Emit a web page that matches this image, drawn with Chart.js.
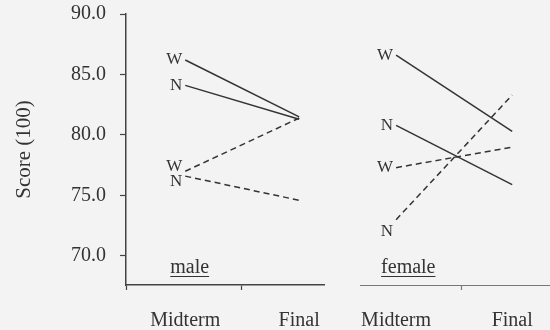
<!DOCTYPE html>
<html>
<head>
<meta charset="utf-8">
<title>Score (100)</title>
<script src="https://cdn.jsdelivr.net/npm/chart.js@4.4.1/dist/chart.umd.min.js"></script>
<style>
    html, body { margin: 0; padding: 0; background: #f3f3f3; }
    #wrap { position: relative; width: 550px; height: 330px; overflow: hidden; }
    #maleChart { position: absolute; left: 0; top: -12px; }
    #femaleChart { position: absolute; left: 340px; top: -12px; }
</style>
</head>
<body>
<div id="wrap">
    <canvas id="maleChart" width="340" height="364"></canvas>
    <canvas id="femaleChart" width="210" height="364"></canvas>
</div>
<script>
var periods = ['Midterm', 'Final'];
var yTickValues = [70, 75, 80, 85, 90];

// solid lines
var maleW1 = [86.2, 81.5];
var maleN1 = [84.1, 81.3];
var femaleW1 = [86.6, 80.3];
var femaleN1 = [80.8, 75.9];

// dashed lines
var maleW2 = [77.0, 81.4];
var maleN2 = [76.6, 74.6];
var femaleW2 = [77.3, 79.0];
var femaleN2 = [73.0, 83.3];

var ScoreCharts = (function () {
    'use strict';

    var serif = '"Liberation Serif", "Times New Roman", serif';
    var ink = '#333';
    var axisInk = '#444';
    var clear = 'rgba(0,0,0,0)';

    var toPoints = function (values) {
        return values.map(function (v, i) {
            return { x: i, y: v };
        });
    };

    var makeSet = function (label, values, dashed) {
        return {
            label: label,
            data: toPoints(values),
            borderColor: ink,
            borderWidth: 1.5,
            borderDash: dashed ? [6, 4] : [],
            pointRadius: 0,
            tension: 0,
            fill: false
        };
    };

    // W / N markers at the start of each line, and the underlined group name
    var pointLabels = {
        id: 'pointLabels',
        afterDatasetsDraw: function (chart, args, opts) {
            var ctx = chart.ctx;
            var items = chart.data.datasets.map(function (ds, i) {
                var pts = chart.getDatasetMeta(i).data;
                var p0 = pts[0], p1 = pts[1];
                var y = p0.y;
                var slope = (p1.y - p0.y) / (p1.x - p0.x);
                if (slope < -0.9) {
                    y += 12;
                }
                return { text: ds.label, x: p0.x - 3, y: y };
            });
            items.sort(function (a, b) { return a.y - b.y; });
            for (var k = 1; k < items.length; k++) {
                if (items[k].y - items[k - 1].y < 15) {
                    var mid = (items[k].y + items[k - 1].y) / 2;
                    items[k - 1].y = mid - 7.5;
                    items[k].y = mid + 7.5;
                }
            }

            ctx.save();
            ctx.fillStyle = ink;
            ctx.font = '17px ' + serif;
            ctx.textAlign = 'right';
            ctx.textBaseline = 'middle';
            items.forEach(function (it) {
                ctx.fillText(it.text, it.x, it.y);
            });

            var gx = chart.scales.x.getPixelForValue(0) - 15;
            var gy = chart.chartArea.bottom - 12;
            ctx.font = '20px ' + serif;
            ctx.textAlign = 'left';
            ctx.textBaseline = 'alphabetic';
            ctx.fillText(opts.group, gx, gy);
            var w = ctx.measureText(opts.group).width;
            ctx.strokeStyle = ink;
            ctx.lineWidth = 1;
            ctx.beginPath();
            ctx.moveTo(gx, gy + 3.5);
            ctx.lineTo(gx + w, gy + 3.5);
            ctx.stroke();
            ctx.restore();
        }
    };

    var xScale = function (min, max, divider, withCorner, borderColor, borderWidth) {
        var marks = withCorner ? [min, 0, divider, 1] : [0, divider, 1];
        return {
            type: 'linear',
            min: min,
            max: max,
            afterBuildTicks: function (scale) {
                scale.ticks = marks.map(function (v) { return { value: v }; });
            },
            ticks: {
                autoSkip: false,
                maxRotation: 0,
                padding: 19,
                color: ink,
                font: { family: serif, size: 20 },
                callback: function (v) {
                    return periods[v] || '';
                }
            },
            grid: {
                drawOnChartArea: false,
                tickLength: 5,
                tickWidth: 1.2,
                tickColor: function (c) {
                    var v = c.tick ? c.tick.value : null;
                    return (v === 0 || v === 1) ? clear : borderColor;
                }
            },
            border: { color: borderColor, width: borderWidth }
        };
    };

    // the female panel keeps an invisible y axis so both panels line up
    var yScale = function (show, width) {
        return {
            type: 'linear',
            min: 67.6,
            max: 90,
            afterBuildTicks: function (scale) {
                scale.ticks = yTickValues.map(function (v) { return { value: v }; });
            },
            afterFit: function (scale) {
                scale.width = width;
            },
            ticks: {
                padding: 14,
                color: show ? ink : clear,
                font: { family: serif, size: 20 },
                callback: function (v) {
                    return v.toFixed(1);
                }
            },
            grid: {
                drawOnChartArea: false,
                tickLength: 6,
                tickWidth: 1.2,
                tickColor: show ? axisInk : clear
            },
            border: { display: show, color: axisInk, width: 1.5 },
            title: {
                display: show,
                text: 'Score (100)',
                color: ink,
                font: { family: serif, size: 21 },
                padding: { top: 12, bottom: 0 }
            }
        };
    };

    var loadGroup = function (selector, group, sets, x, y, padding) {
        var context = document.getElementById(selector);
        var chart = new Chart(context, {
            type: 'line',
            data: { datasets: sets },
            options: {
                responsive: false,
                animation: false,
                layout: { padding: padding },
                scales: { x: x, y: y },
                plugins: {
                    legend: { display: false },
                    tooltip: { enabled: false },
                    pointLabels: { group: group }
                }
            },
            plugins: [pointLabels]
        });

        return chart;
    };

    var load = function () {
        loadGroup('maleChart', 'male', [
            makeSet('W', maleW1, false),
            makeSet('N', maleN1, false),
            makeSet('W', maleW2, true),
            makeSet('N', maleN2, true)
        ], xScale(-0.52, 1.22, 0.49, true, axisInk, 1.5), yScale(true, 126),
            { top: 1, left: 0, right: 10, bottom: 0 });

        loadGroup('femaleChart', 'female', [
            makeSet('W', femaleW1, false),
            makeSet('N', femaleN1, false),
            makeSet('W', femaleW2, true),
            makeSet('N', femaleN2, true)
        ], xScale(-0.303, 1.319, 0.56, false, '#777', 1), yScale(false, 12),
            { top: 1, left: 0, right: 0, bottom: 0 });
    };

    return { load: load };
})();

ScoreCharts.load();
</script>
</body>
</html>
